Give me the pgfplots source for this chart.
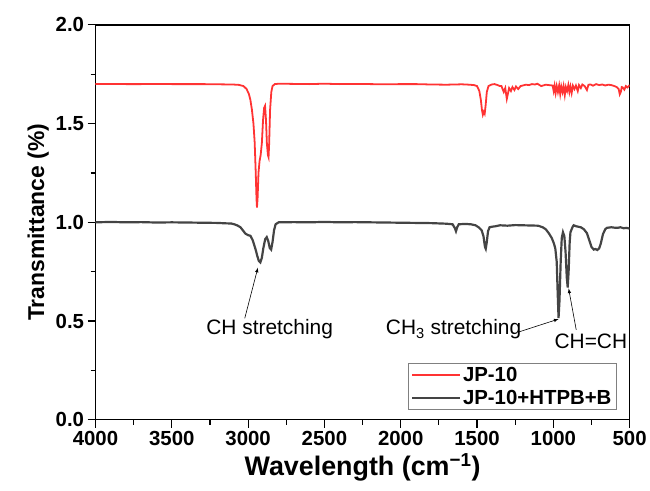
\documentclass[border=0pt]{standalone}
\usepackage{fontspec}
\setmainfont{Liberation Sans}
\usepackage{pgfplots}
\pgfplotsset{compat=1.18}
\definecolor{jpred}{RGB}{255,51,51}
\definecolor{jpgray}{RGB}{68,68,68}

\begin{document}
\begin{tikzpicture}
\begin{axis}[
  scale only axis, width=537pt, height=397pt,
  x dir=reverse, xmin=500, xmax=4000, ymin=0, ymax=2,
  xtick={500,1000,...,4000}, ytick={0,0.5,1,1.5,2},
  minor x tick num=1, minor y tick num=1,
  tick align=outside, tick pos=left,
  major tick length=8pt, minor tick length=5pt,
  every tick/.style={black, line width=1.2pt},
  axis line style={line width=1.3pt},
  ticklabel style={font=\bfseries\fontsize{20.5}{22}\selectfont},
  /pgf/number format/assume math mode=true,
  x tick label style={/pgf/number format/1000 sep={}},
  y tick label style={/pgf/number format/.cd, fixed, fixed zerofill, precision=1},
  xlabel={Wavelength (cm\textsuperscript{−1})},
  ylabel={Transmittance (\%)},
  x label style={font=\bfseries\fontsize{27}{30}\selectfont, yshift=-1pt},
  y label style={font=\bfseries\fontsize{23}{26}\selectfont},
  legend style={at={(0.976,0.025)}, anchor=south east, draw=gray, line width=0.8pt,
    font=\bfseries\fontsize{20.5}{23}\selectfont, cells={anchor=west}, row sep=3pt},
  legend image code/.code={\draw[#1] (0pt,0pt) -- (48pt,0pt);},
]
\addplot[jpred, line width=1.8pt] coordinates {
(4000,1.700) (3900,1.701) (3800,1.700) (3700,1.700) (3600,1.701) (3500,1.700)
(3400,1.700) (3300,1.700) (3200,1.699) (3100,1.698) (3060,1.696) (3030,1.690)
(3010,1.675) (2995,1.650) (2985,1.620) (2975,1.570) (2965,1.500) (2957,1.405)
(2950,1.25) (2945,1.12) (2942,1.075) (2938,1.12) (2932,1.25) (2925,1.31)
(2918,1.34) (2910,1.40) (2902,1.52) (2895,1.58) (2889,1.59) (2883,1.52)
(2877,1.40) (2870,1.34) (2866,1.33) (2862,1.40) (2856,1.57) (2848,1.66)
(2840,1.69) (2825,1.700) (2800,1.702) (2700,1.701) (2600,1.700) (2500,1.702)
(2400,1.700) (2300,1.701) (2200,1.700) (2100,1.699) (2000,1.700) (1900,1.700)
(1800,1.698) (1700,1.697) (1600,1.699) (1550,1.697) (1520,1.695) (1500,1.690)
(1485,1.665) (1475,1.62) (1468,1.57) (1462,1.545) (1456,1.56) (1450,1.55)
(1444,1.59) (1436,1.66) (1425,1.69) (1405,1.698) (1385,1.700) (1365,1.695)
(1350,1.690) (1340,1.690) (1325,1.660) (1315,1.680) (1305,1.625) (1298,1.650)
(1290,1.680) (1278,1.665) (1268,1.685) (1255,1.670) (1245,1.688) (1230,1.675)
(1215,1.690) (1200,1.693) (1180,1.697) (1160,1.695) (1140,1.700) (1120,1.698)
(1105,1.702) (1090,1.695) (1080,1.690) (1050,1.697) (1030,1.695) (1005,1.693)
(998,1.665) (992,1.692) (985,1.655) (978,1.690) (970,1.660) (962,1.693)
(955,1.650) (948,1.688) (940,1.660) (933,1.690) (925,1.645) (918,1.685)
(910,1.665) (902,1.695) (895,1.660) (888,1.688) (880,1.655) (872,1.692)
(862,1.675) (852,1.693) (840,1.665) (832,1.695) (820,1.680) (810,1.698)
(795,1.690) (780,1.670) (770,1.697) (755,1.698) (740,1.692) (720,1.700)
(700,1.695) (680,1.698) (660,1.693) (640,1.697) (620,1.695) (600,1.690)
(585,1.685) (572,1.675) (565,1.648) (558,1.660) (552,1.685) (545,1.683)
(535,1.672) (525,1.690) (515,1.683) (500,1.695)
};
\addlegendentry{JP-10}
\addplot[jpgray, line width=2.2pt] coordinates {
(4000,1.000) (3900,1.002) (3800,1.000) (3700,1.001) (3600,0.999) (3500,1.000)
(3400,0.999) (3300,0.998) (3200,0.997) (3150,0.995) (3110,0.994) (3090,0.990)
(3070,0.984) (3050,0.975) (3035,0.960) (3018,0.943) (3000,0.935) (2985,0.932)
(2970,0.910) (2960,0.885) (2950,0.860) (2940,0.830) (2930,0.805) (2920,0.797)
(2910,0.820) (2900,0.870) (2888,0.915) (2878,0.925) (2868,0.905) (2858,0.870)
(2849,0.862) (2840,0.900) (2830,0.960) (2820,0.990) (2800,1.000) (2700,1.001)
(2600,1.000) (2500,1.002) (2400,1.000) (2300,1.001) (2200,1.000) (2100,0.999)
(2000,0.998) (1900,0.997) (1800,0.996) (1700,0.993) (1660,0.990) (1645,0.970)
(1638,0.955) (1630,0.975) (1620,0.990) (1580,0.992) (1540,0.990) (1510,0.985)
(1490,0.975) (1470,0.960) (1458,0.930) (1448,0.875) (1443,0.866) (1437,0.895)
(1428,0.955) (1418,0.975) (1400,0.978) (1380,0.980) (1350,0.985) (1300,0.983)
(1250,0.986) (1200,0.985) (1150,0.984) (1100,0.983) (1070,0.975) (1050,0.965)
(1030,0.945) (1010,0.920) (995,0.890) (987,0.866) (978,0.800) (972,0.650)
(966,0.515) (960,0.600) (952,0.800) (945,0.920) (937,0.950) (928,0.930)
(920,0.850) (912,0.720) (906,0.670) (900,0.750) (893,0.900) (888,0.950)
(875,0.975) (867,0.985) (850,0.980) (820,0.975) (800,0.965) (780,0.945)
(765,0.910) (750,0.875) (735,0.862) (725,0.865) (712,0.860) (700,0.868)
(690,0.890) (675,0.940) (660,0.965) (650,0.972) (620,0.975) (600,0.973)
(580,0.972) (560,0.975) (540,0.970) (520,0.972) (500,0.968)
};
\addlegendentry{JP-10+HTPB+B}
\draw[-latex, line width=0.6pt] (axis cs:3022,0.514) -- (axis cs:2936,0.77);
\draw[-latex, line width=0.6pt] (axis cs:1226,0.445) -- (axis cs:966,0.51);
\draw[-latex, line width=0.6pt] (axis cs:850,0.455) -- (axis cs:900,0.665);
\node[font=\fontsize{21}{23}\selectfont] at (axis cs:2859,0.457) {CH stretching};
\node[font=\fontsize{21}{23}\selectfont] at (axis cs:1654,0.457) {CH\textsubscript{3} stretching};
\node[font=\fontsize{21}{23}\selectfont] at (axis cs:754,0.398) {CH=CH};
\end{axis}
\path ([shift={(-96pt,-71pt)}]current axis.south west) rectangle ([shift={(17pt,25pt)}]current axis.north east);
\end{tikzpicture}
\end{document}
